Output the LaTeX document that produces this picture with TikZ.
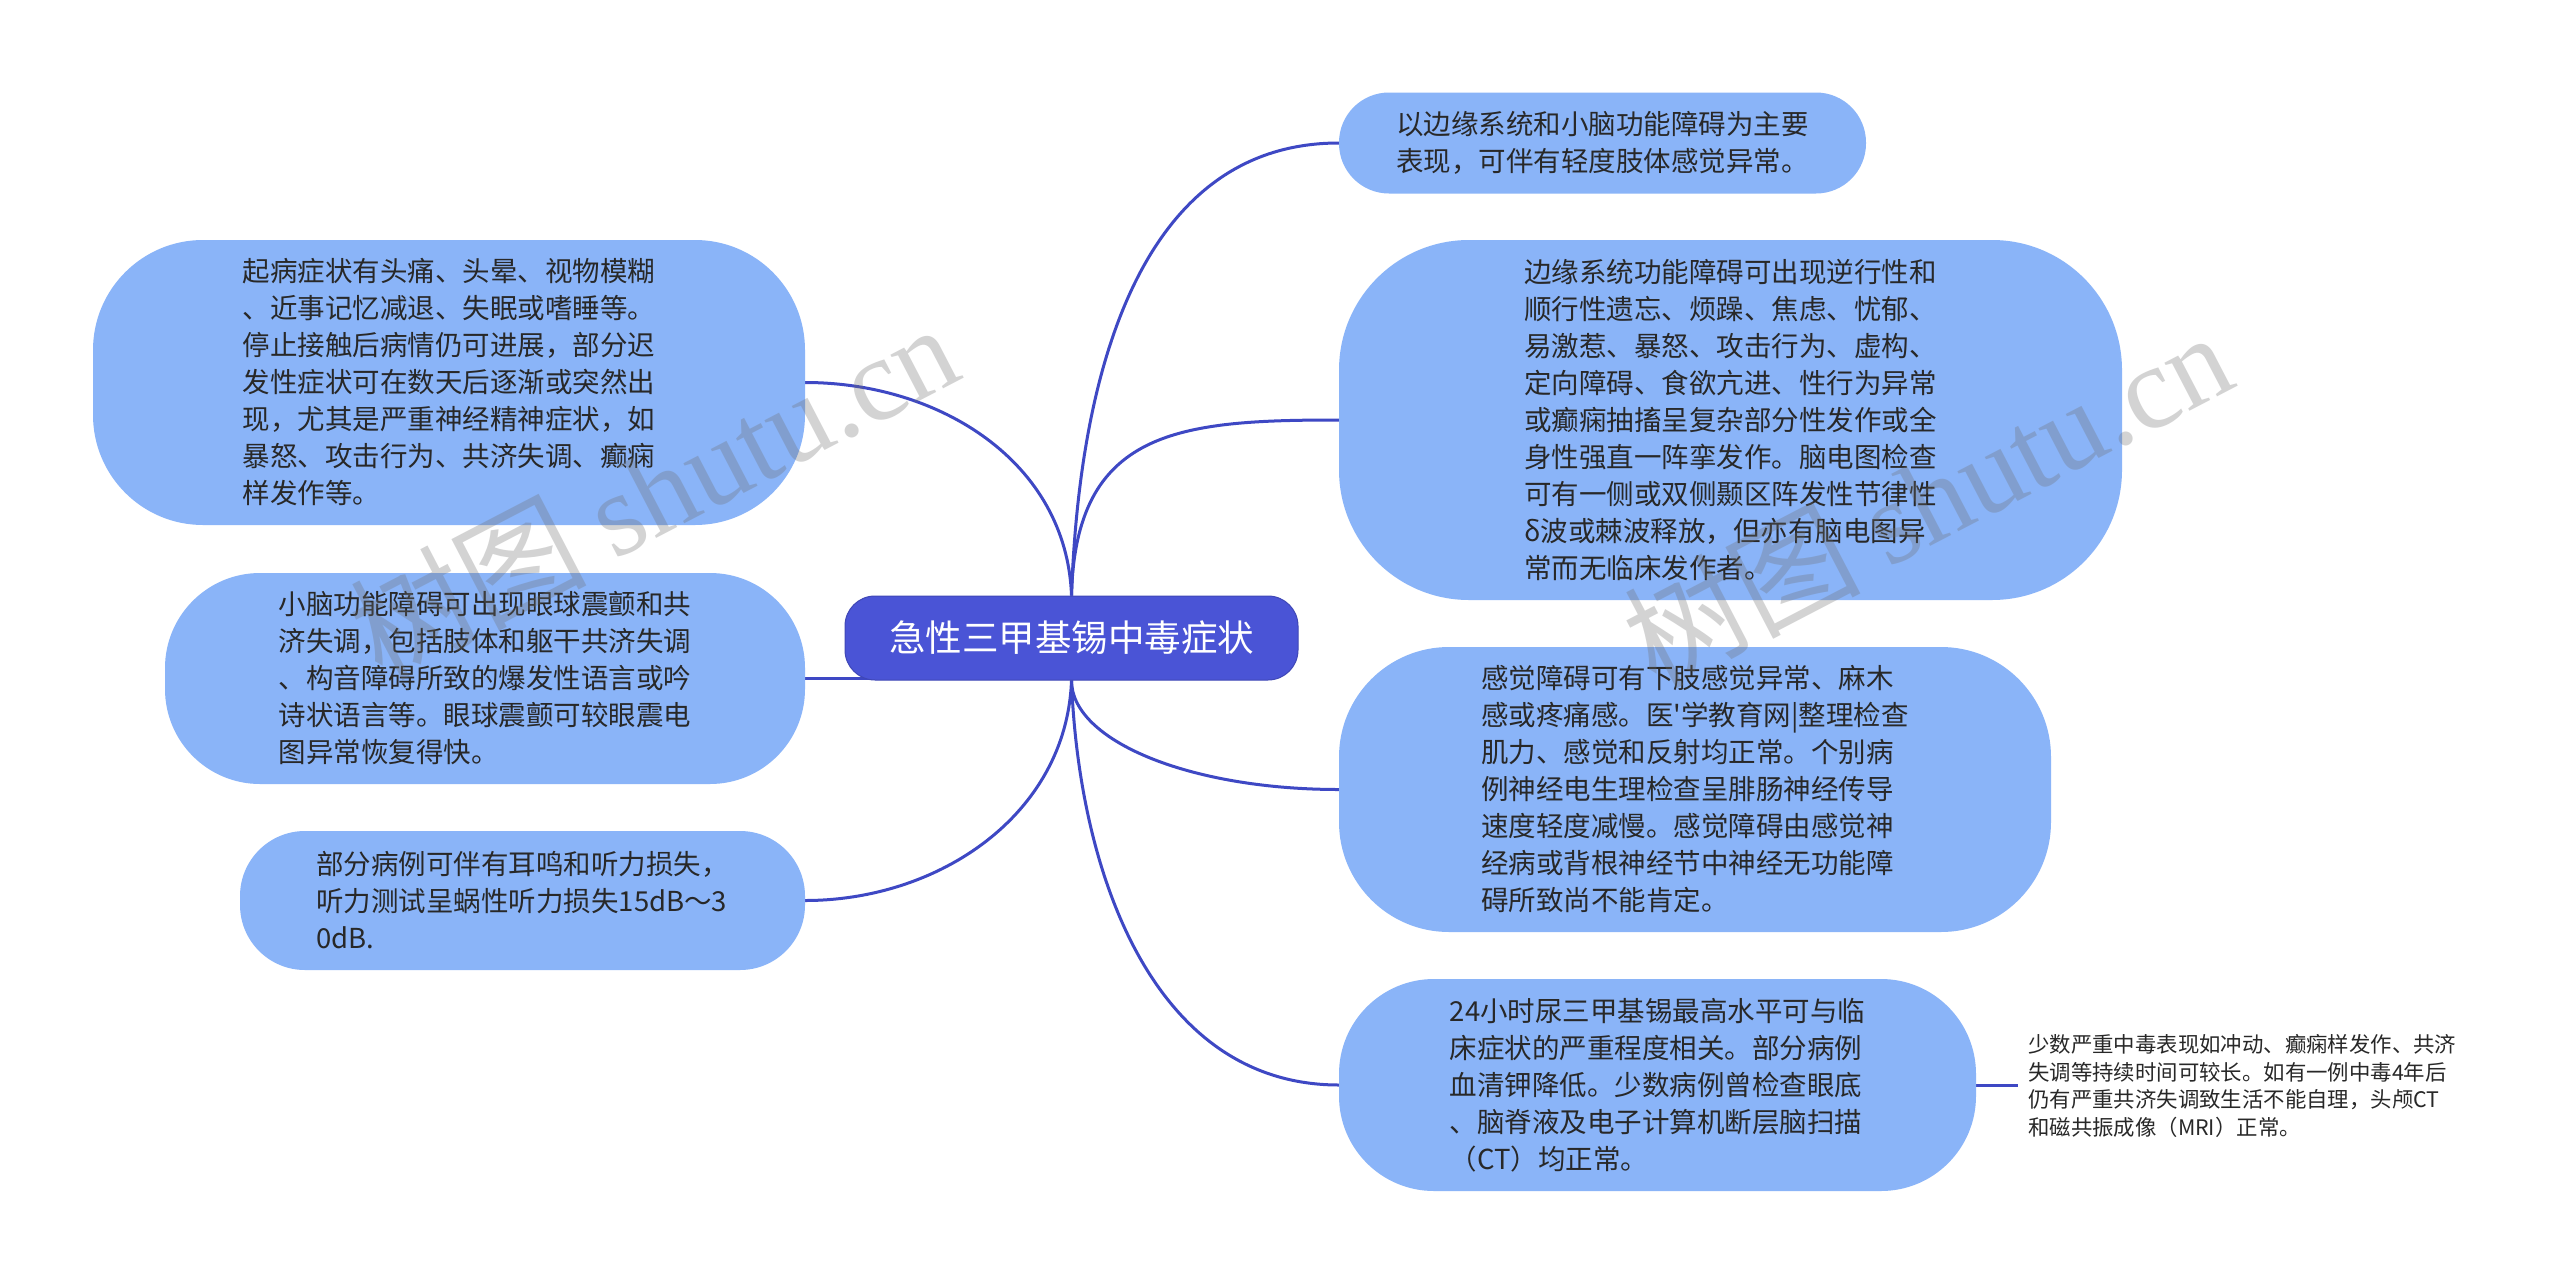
\documentclass[tikz,border=0pt]{standalone}
\usepackage{fontspec}
\setmainfont{Noto Sans CJK SC}
\newfontfamily\cjkplain{Noto Sans CJK SC}
\newfontfamily\wmlatin{Liberation Serif}
\pgfdeclarelayer{bg}
\pgfdeclarelayer{fg}
\pgfsetlayers{bg,main,fg}
\definecolor{leaffill}{RGB}{138,180,248}
\definecolor{rootfill}{RGB}{74,84,214}
\definecolor{linkcol}{RGB}{62,72,196}
\definecolor{leaftext}{RGB}{40,40,40}
\definecolor{wmcol}{RGB}{110,110,110}
\begin{document}
\begin{tikzpicture}[x=1pt,y=-1pt,
  leafbox/.style={draw=none, fill=leaffill, text=leaftext, align=left, inner sep=0pt,
    font=\fontsize{27.5}{37}\selectfont},
  rootbox/.style={fill=rootfill, draw=rootfill!85!black, line width=1pt, text=white,
    inner sep=0pt, rounded corners=30pt, font=\fontsize{36.5}{44}\selectfont,
    minimum width=453pt, minimum height=84pt},
  smalltext/.style={anchor=west, inner ysep=0pt, inner xsep=10pt, align=left, text=leaftext,
    font=\fontsize{21.4}{27.5}\selectfont},
  link/.style={draw=linkcol, line width=3pt},
  wm/.style={text=wmcol, text opacity=0.3, rotate=27.5, inner sep=0pt,
    font=\fontsize{118}{120}\selectfont}]

\useasboundingbox (0,0) rectangle (2560,1277);

\node[rootbox] (c) at (1071.5,638) {急性三甲基锡中毒症状};

\node[leafbox, minimum width=712pt, minimum height=285pt, rounded corners=110pt] (l1) at (449,382.5)
 {起病症状有头痛、头晕、视物模糊\\、近事记忆减退、失眠或嗜睡等。\\停止接触后病情仍可进展，部分迟\\发性症状可在数天后逐渐或突然出\\现，尤其是严重神经精神症状，如\\暴怒、攻击行为、共济失调、癫痫\\样发作等。};

\node[leafbox, minimum width=640pt, minimum height=211pt, rounded corners=95pt] (l2) at (485,678.5)
 {小脑功能障碍可出现眼球震颤和共\\济失调，包括肢体和躯干共济失调\\、构音障碍所致的爆发性语言或吟\\诗状语言等。眼球震颤可较眼震电\\图异常恢复得快。};

\node[leafbox, minimum width=565pt, minimum height=139pt, rounded corners=65pt] (l3) at (522.5,900.5)
 {部分病例可伴有耳鸣和听力损失，\\听力测试呈蜗性听力损失15dB～3\\0dB.};

\node[leafbox, minimum width=527pt, minimum height=101pt, rounded corners=50pt] (r1) at (1602.5,143)
 {以边缘系统和小脑功能障碍为主要\\表现，可伴有轻度肢体感觉异常。};

\node[leafbox, minimum width=783pt, minimum height=360pt, rounded corners=130pt] (r2) at (1730.5,420)
 {边缘系统功能障碍可出现逆行性和\\顺行性遗忘、烦躁、焦虑、忧郁、\\易激惹、暴怒、攻击行为、虚构、\\定向障碍、食欲亢进、性行为异常\\或癫痫抽搐呈复杂部分性发作或全\\身性强直一阵挛发作。脑电图检查\\可有一侧或双侧颞区阵发性节律性\\δ波或棘波释放，但亦有脑电图异\\常而无临床发作者。};

\node[leafbox, minimum width=712pt, minimum height=285pt, rounded corners=110pt] (r3) at (1695,789.5)
 {感觉障碍可有下肢感觉异常、麻木\\感或疼痛感。医{\cjkplain '}学教育网|整理检查\\肌力、感觉和反射均正常。个别病\\例神经电生理检查呈腓肠神经传导\\速度轻度减慢。感觉障碍由感觉神\\经病或背根神经节中神经无功能障\\碍所致尚不能肯定。};

\node[leafbox, minimum width=637pt, minimum height=212pt, rounded corners=95pt] (r4) at (1657.5,1085)
 {24小时尿三甲基锡最高水平可与临\\床症状的严重程度相关。部分病例\\血清钾降低。少数病例曾检查眼底\\、脑脊液及电子计算机断层脑扫描\\（CT）均正常。};

\node[smalltext] (r5) at (2018,1086)
 {少数严重中毒表现如冲动、癫痫样发作、共济\\失调等持续时间可较长。如有一例中毒4年后\\仍有严重共济失调致生活不能自理，头颅CT\\和磁共振成像（MRI）正常。};

\begin{pgfonlayer}{bg}
\fill[white] (0,0) rectangle (2560,1277);
\draw[link] (c.north) .. controls +(-5,-134) and +(134,0) .. (l1.east);
\draw[link] (c.north) .. controls +(7,-206) and +(-206,0) .. (r1.west);
\draw[link] (c.north) .. controls +(4,-166) and +(-160,0) .. (r2.west);
\draw[link] (l2.east) -- (c.center |- l2.east);
\draw[link] (c.south) .. controls +(-5,134) and +(134,0) .. (l3.east);
\draw[link] (c.south) .. controls +(0,60) and +(-150,0) .. (r3.west);
\draw[link] (c.south) .. controls +(7,188) and +(-188,0) .. (r4.west);
\draw[link] (r4.east) -- (r4.east -| r5.west);
\end{pgfonlayer}

\begin{pgfonlayer}{fg}
\node[wm] (wm1) at (653,490) {树图 {\wmlatin shutu.cn}};
\node[wm] (wm2) at (1927,498) {树图 {\wmlatin shutu.cn}};
\end{pgfonlayer}
\end{tikzpicture}
\end{document}
